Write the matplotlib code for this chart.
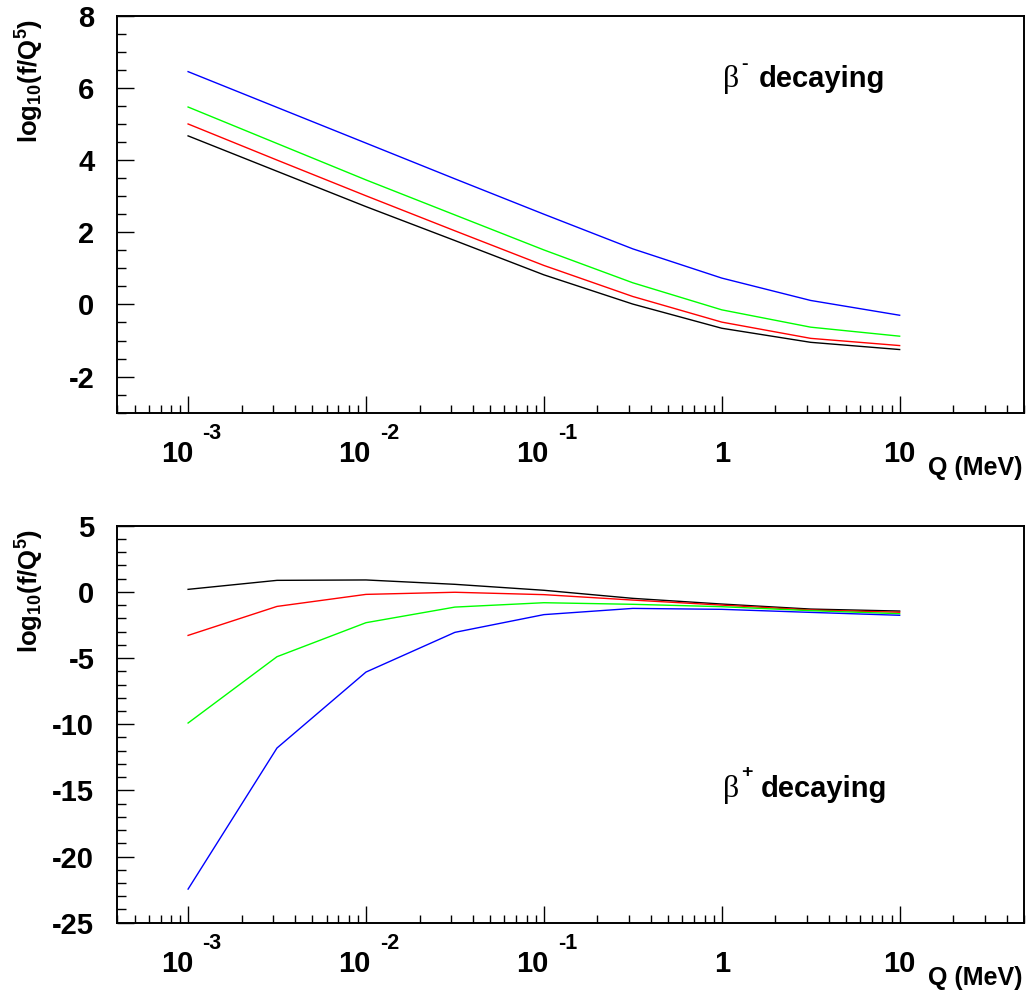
import numpy as np
import matplotlib
matplotlib.use('Agg')
import matplotlib.pyplot as plt
from matplotlib.ticker import FixedLocator, MultipleLocator, LogLocator, NullFormatter, FixedFormatter

plt.rcParams['font.family'] = ['Liberation Sans', 'DejaVu Sans']
plt.rcParams['font.weight'] = 'bold'
plt.rcParams['axes.unicode_minus'] = False
plt.rcParams['mathtext.fontset'] = 'custom'
plt.rcParams['mathtext.rm'] = 'Liberation Sans:bold'
plt.rcParams['mathtext.bf'] = 'Liberation Sans:bold'
plt.rcParams['mathtext.it'] = 'Liberation Sans:bold'

# ---------------- data ----------------
Q = [0.001, 0.00316, 0.01, 0.0316, 0.1, 0.316, 1.0, 3.16, 10.0]

colors = ['black', '#ff0000', '#00ff00', '#0000ff']

beta_minus_black = [4.67, 3.69, 2.71, 1.77, 0.82, 0.01, -0.66, -1.05, -1.25]
beta_minus_red   = [5.00, 4.00, 3.01, 2.04, 1.08, 0.22, -0.49, -0.94, -1.14]
beta_minus_green = [5.47, 4.46, 3.45, 2.48, 1.51, 0.60, -0.15, -0.63, -0.88]
beta_minus_blue  = [6.45, 5.46, 4.47, 3.48, 2.50, 1.54, 0.73, 0.11, -0.30]

beta_plus_black = [0.19, 0.87, 0.90, 0.57, 0.12, -0.49, -0.92, -1.30, -1.45]
beta_plus_red   = [-3.29, -1.10, -0.19, -0.03, -0.21, -0.62, -1.00, -1.37, -1.54]
beta_plus_green = [-9.91, -4.90, -2.33, -1.15, -0.82, -0.94, -1.12, -1.42, -1.65]
beta_plus_blue  = [-22.46, -11.80, -6.06, -3.06, -1.72, -1.25, -1.32, -1.55, -1.77]

x_tick_values = [1e-3, 1e-2, 1e-1, 1, 10]
x_tick_bases = ['10', '10', '10', '1', '10']
x_tick_exps = ['-3', '-2', '-1', '', '']

top_yticks = [-2, 0, 2, 4, 6, 8]
bottom_yticks = [-25, -20, -15, -10, -5, 0, 5]

ylabel_text = r'log$_{10}$(f/Q$^{5}$)'
xlabel_text = 'Q (MeV)'

# ---------------- figure ----------------
W, H = 1026, 994
fig = plt.figure(figsize=(W / 100, H / 100), dpi=100)


def px_axes(left, top, right, bottom):
    return fig.add_axes([left / W, 1 - bottom / H, (right - left) / W, (bottom - top) / H])


def style(ax, ylim, yticks, yminor):
    ax.set_xscale('log')
    ax.set_xlim(4e-4, 50)
    ax.set_ylim(*ylim)
    ax.yaxis.set_major_locator(FixedLocator(yticks))
    ax.yaxis.set_major_formatter(FixedFormatter([str(v) for v in yticks]))
    ax.yaxis.set_minor_locator(MultipleLocator(yminor))
    ax.xaxis.set_major_locator(FixedLocator(x_tick_values))
    ax.xaxis.set_minor_locator(LogLocator(base=10, subs=np.arange(2, 10), numticks=30))
    ax.xaxis.set_major_formatter(NullFormatter())
    ax.xaxis.set_minor_formatter(NullFormatter())
    ax.tick_params(axis='both', which='both', direction='in', top=False, right=False,
                   color='black', width=1.0)
    ax.tick_params(which='major', length=17 * 0.72)
    ax.tick_params(which='minor', length=8.5 * 0.72)
    ax.tick_params(axis='y', labelsize=21, pad=23 * 0.72)
    for lab in ax.get_yticklabels():
        lab.set_fontweight('bold')
    for s in ax.spines.values():
        s.set_linewidth(1.4)
        s.set_color('black')
    # x tick labels (ROOT style 10 with raised exponent)
    for xv, base, ex in zip(x_tick_values, x_tick_bases, x_tick_exps):
        if ex:
            ax.annotate(base, xy=(xv, 0), xycoords=('data', 'axes fraction'),
                        xytext=(5, -27), textcoords='offset pixels',
                        ha='right', va='top', fontsize=21, fontweight='bold')
            ax.annotate(ex, xy=(xv, 0), xycoords=('data', 'axes fraction'),
                        xytext=(14, -10), textcoords='offset pixels',
                        ha='left', va='top', fontsize=15.5, fontweight='bold')
        else:
            ax.annotate(base, xy=(xv, 0), xycoords=('data', 'axes fraction'),
                        xytext=(0, -27), textcoords='offset pixels',
                        ha='center', va='top', fontsize=21, fontweight='bold')
    ax.annotate(xlabel_text, xy=(1, 0), xycoords='axes fraction',
                xytext=(-2, -62), textcoords='offset pixels',
                ha='right', va='baseline', fontsize=18, fontweight='bold')
    ax.annotate(ylabel_text, xy=(0, 1), xycoords='axes fraction',
                xytext=(-87, -3), textcoords='offset pixels', rotation=90,
                ha='center', va='top', fontsize=18.5, fontweight='bold')


def beta_label(ax, xfrac, yfrac, sign, sup_dy, dec_dx):
    ax.annotate('β', xy=(xfrac, yfrac), xycoords='axes fraction',
                xytext=(0, 0), textcoords='offset pixels',
                ha='left', va='baseline', fontsize=23, fontweight='normal',
                family=['Liberation Serif', 'DejaVu Serif'])
    ax.annotate(sign, xy=(xfrac, yfrac), xycoords='axes fraction',
                xytext=(18, sup_dy), textcoords='offset pixels',
                ha='left', va='center', fontsize=14, fontweight='bold')
    ax.annotate('decaying', xy=(xfrac, yfrac), xycoords='axes fraction',
                xytext=(dec_dx, 0), textcoords='offset pixels',
                ha='left', va='baseline', fontsize=21, fontweight='bold')


# top panel: beta- decaying
ax1 = px_axes(117.3, 15.7, 1024, 412.7)
for ys, c in zip([beta_minus_black, beta_minus_red, beta_minus_green, beta_minus_blue], colors):
    ax1.plot(Q, ys, color=c, lw=1.0)
style(ax1, (-3, 8), top_yticks, 0.5)
beta_label(ax1, 0.668, 0.821, '-', 22, 36)

# bottom panel: beta+ decaying
ax2 = px_axes(117.3, 525.7, 1024, 922.7)
for ys, c in zip([beta_plus_black, beta_plus_red, beta_plus_green, beta_plus_blue], colors):
    ax2.plot(Q, ys, color=c, lw=1.0)
style(ax2, (-25, 5), bottom_yticks, 1)
beta_label(ax2, 0.668, 0.317, '+', 24, 38)

fig.savefig('out.png', dpi=100)
